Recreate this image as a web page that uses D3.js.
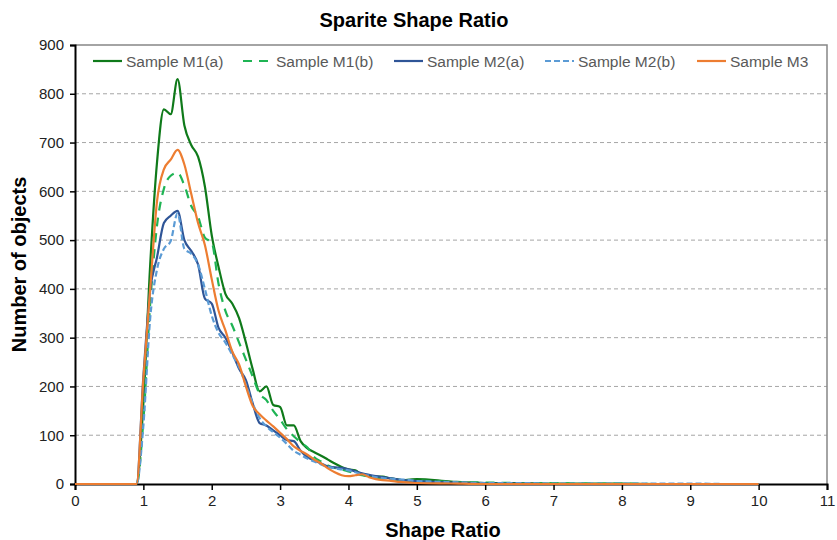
<!DOCTYPE html>
<html>
<head>
<meta charset="utf-8">
<script src="https://cdn.jsdelivr.net/npm/d3@7"></script>
<style>
body{margin:0;background:#fff;}
text{font-family:"Liberation Sans",Arial,sans-serif;}
</style>
</head>
<body>
<script>
var width = 837, height = 540;
var margin = {top:45, right:10, bottom:56, left:75};

// shape ratio sample points
var xVals = [0,0.5,0.9,1.0,1.1,1.2,1.3,1.4,1.5,1.6,1.7,1.8,1.9,2.0,2.1,2.2,2.3,2.4,2.5,2.6,2.7,2.8,2.9,3.0,
  3.1,3.2,3.3,3.4,3.5,3.6,3.7,3.8,3.9,4.0,4.1,4.2,4.3,4.4,4.5,4.6,4.7,4.8,4.9,5.0,5.5,6.0,6.5,7.0,7.5,8.0,8.5,9.0,9.5,10.0];

var m1a = [0,0,0,165,450,660,768,758,830,735,695,671,610,510,445,390,370,340,290,235,190,200,162,158,
  120,120,88,73,65,58,50,42,35,30,28,19,17,15,15,12,10,8,9,10,5,2,2,1,1,1,0,0,0,0];
var m1b = [0,0,0,130,370,530,605,632,638,612,570,548,505,495,410,355,325,290,255,220,185,172,150,132,
  112,98,85,75,55,46,38,33,30,26,22,18,15,13,12,10,9,8,7,7,4,3,2,2,1,1,0,0,0,0];
var m2a = [0,0,0,220,398,465,535,550,560,500,478,450,380,370,320,300,270,236,213,165,125,120,110,100,
  90,88,68,55,48,42,36,34,33,30,26,22,19,16,14,12,10,8,7,6,3,1,1,0,0,0,0,0,0,0];
var m2b = [0,0,0,120,340,440,482,498,555,482,472,450,400,345,310,290,265,240,203,165,135,118,106,95,
  82,68,60,52,46,40,35,32,30,28,24,20,17,14,12,11,10,9,8,6,4,2,2,1,1,1,1,1,0,0];
var m3 = [0,0,0,215,400,580,645,665,685,655,595,535,490,420,355,315,272,245,200,160,143,130,118,105,
  92,77,68,60,50,42,32,24,18,16,18,20,14,10,8,7,5,4,3,2,1,0,0,0,0,0,0,0,0,0];

var seriesNames = ["Sample M1(a)","Sample M1(b)","Sample M2(a)","Sample M2(b)","Sample M3"];
var seriesData = [m1a, m1b, m2a, m2b, m3];
var seriesColors = ["#0f7a1a","#1fb454","#2f5597","#5b9bd5","#ed7d31"];
var seriesDash = [null,"9,7",null,"6,3",null];

var xTicks = [0,1,2,3,4,5,6,7,8,9,10,11];
var yTicks = [0,100,200,300,400,500,600,700,800,900];

var svg = d3.select("body").append("svg")
    .attr("width", width)
    .attr("height", height);

var x = d3.scaleLinear().domain([0,11]).range([margin.left, width - margin.right]);
var y = d3.scaleLinear().domain([0,900]).range([height - margin.bottom, margin.top]);

// gridlines
svg.append("g").selectAll("line")
    .data(yTicks.slice(1, -1))
    .enter().append("line")
    .attr("x1", x(0)).attr("x2", x(11))
    .attr("y1", function(d){ return y(d); })
    .attr("y2", function(d){ return y(d); })
    .style("stroke","#a6a6a6")
    .style("stroke-dasharray","4,3")
    .style("stroke-width",1);

// plot border (top/right)
svg.append("path")
    .attr("d", "M" + x(0) + "," + y(900) + "H" + x(11) + "V" + y(0))
    .style("fill","none")
    .style("stroke","#868686")
    .style("stroke-width",1.5);

// axes
var xAxis = svg.append("g")
    .attr("transform","translate(0," + y(0) + ")")
    .call(d3.axisBottom(x).tickValues(xTicks).tickSize(6).tickPadding(5));
var yAxis = svg.append("g")
    .attr("transform","translate(" + x(0) + ",0)")
    .call(d3.axisLeft(y).tickValues(yTicks).tickSize(5).tickPadding(6));
[xAxis, yAxis].forEach(function(a){
    a.select(".domain").style("stroke","#000").style("stroke-width",2);
    a.selectAll(".tick line").style("stroke","#000").style("stroke-width",1.5);
    a.selectAll(".tick text").style("font-size","15px").style("fill","#222");
});

// lines
var line = d3.line()
    .x(function(d, i){ return x(xVals[i]); })
    .y(function(d){ return y(d); })
    .curve(d3.curveMonotoneX);

seriesData.forEach(function(s, i){
    svg.append("path")
        .datum(s)
        .attr("d", line)
        .style("fill","none")
        .style("stroke", seriesColors[i])
        .style("stroke-width", 2.2)
        .style("stroke-dasharray", seriesDash[i]);
});

// legend
var legendX = [93, 243, 394, 545, 697];
var lg = svg.append("g");
seriesNames.forEach(function(n, i){
    lg.append("line")
        .attr("x1", legendX[i]).attr("x2", legendX[i] + 29)
        .attr("y1", 61).attr("y2", 61)
        .style("stroke", seriesColors[i])
        .style("stroke-width", 2.2)
        .style("stroke-dasharray", seriesDash[i]);
    lg.append("text")
        .attr("x", legendX[i] + 33)
        .attr("y", 66.5)
        .style("font-size","15.5px")
        .style("fill","#595959")
        .text(n);
});

// titles
svg.append("text")
    .attr("x", 414).attr("y", 27)
    .attr("text-anchor","middle")
    .style("font-size","20px").style("font-weight","bold")
    .text("Sparite Shape Ratio");

svg.append("text")
    .attr("x", (x(0) + x(11)) / 2 - 8).attr("y", 537)
    .attr("text-anchor","middle")
    .style("font-size","20px").style("font-weight","bold")
    .text("Shape Ratio");

svg.append("text")
    .attr("transform","translate(26," + (y(0) + y(900)) / 2 + ") rotate(-90)")
    .attr("text-anchor","middle")
    .style("font-size","20px").style("font-weight","bold")
    .text("Number of objects");
</script>
</body>
</html>
